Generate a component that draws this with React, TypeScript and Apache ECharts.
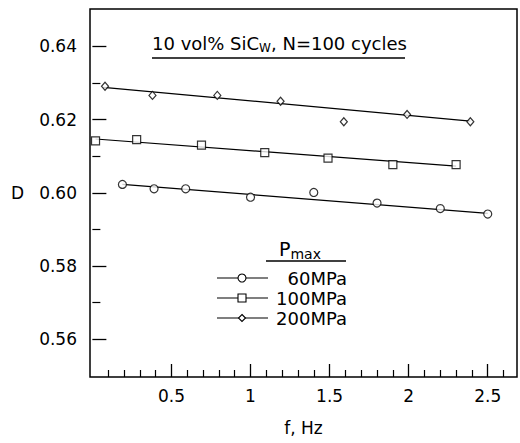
import React, { useEffect, useRef } from "react";
import * as echarts from "echarts";

// ---- data ----
const x60 = [0.19, 0.39, 0.59, 1.0, 1.4, 1.8, 2.2, 2.5];
const y60 = [0.6023, 0.6011, 0.6011, 0.5988, 0.6001, 0.5972, 0.5957, 0.5942];
const x100 = [0.02, 0.28, 0.69, 1.09, 1.49, 1.9, 2.3];
const y100 = [0.6142, 0.6145, 0.613, 0.611, 0.6095, 0.6077, 0.6077];
const x200 = [0.08, 0.38, 0.79, 1.19, 1.59, 1.99, 2.39];
const y200 = [0.6291, 0.6266, 0.6266, 0.625, 0.6194, 0.6214, 0.6194];

// fitted lines (endpoints as drawn)
const fit60X = [0.19, 2.5];
const fit60Y = [0.6023, 0.5944];
const fit100X = [0.02, 2.3];
const fit100Y = [0.6147, 0.6073];
const fit200X = [0.07, 2.39];
const fit200Y = [0.6288, 0.6196];

// ticks
const xMajor = [0.5, 1, 1.5, 2, 2.5];
const xMinor = [0.1, 0.2, 0.3, 0.4, 0.6, 0.7, 0.8, 0.9, 1.1, 1.2, 1.3, 1.4, 1.6, 1.7, 1.8, 1.9, 2.1, 2.2, 2.3, 2.4, 2.6];
const yMajor = [0.56, 0.58, 0.6, 0.62, 0.64];
const yMinor = [0.57, 0.59, 0.61, 0.63];

const legendNames = ["60MPa", "100MPa", "200MPa"];

const FONT = "DejaVu Sans, Arial, sans-serif";

function pairs(xs: number[], ys: number[]) {
  return xs.map((x, i) => [x, ys[i]]);
}

export default function App() {
  const ref = useRef<HTMLDivElement>(null);
  useEffect(() => {
    if (!ref.current) return;
    const chart = echarts.init(ref.current, null, { renderer: "svg" });
    const X0 = -0.015, X1 = 2.685, Y0 = 0.5497, Y1 = 0.6502;
    const black = "#000";
    const markerStyle = { color: "#fff", borderColor: black, borderWidth: 1.2 };
    const fitStyle = { color: black, width: 1.2 };
    const legendY = [278, 298, 318];
    const legendGraphics: any[] = [];
    legendY.forEach((y, i) => {
      legendGraphics.push({
        type: "line",
        shape: { x1: 217, y1: y, x2: 268, y2: y },
        style: { stroke: black, lineWidth: 1.1 },
      });
      if (i === 0) {
        legendGraphics.push({ type: "circle", shape: { cx: 242, cy: y, r: 4 }, style: { fill: "#fff", stroke: black, lineWidth: 1.1 } });
      } else if (i === 1) {
        legendGraphics.push({ type: "rect", shape: { x: 238, y: y - 4, width: 8, height: 8 }, style: { fill: "#fff", stroke: black, lineWidth: 1.1 } });
      } else {
        legendGraphics.push({
          type: "polygon",
          shape: { points: [[242, y - 3.5], [245.5, y], [242, y + 3.5], [238.5, y]] },
          style: { fill: "#fff", stroke: black, lineWidth: 1.1 },
        });
      }
      legendGraphics.push({
        type: "text",
        style: {
          text: legendNames[i], x: 347, y, align: "right", textAlign: "right",
          verticalAlign: "middle", textVerticalAlign: "middle",
          fontSize: 18, fontFamily: FONT, fill: black,
        },
      });
    });

    chart.setOption({
      animation: false,
      backgroundColor: "#fff",
      grid: { left: 90, top: 9, width: 427, height: 368, show: true, borderColor: black, borderWidth: 1.5, backgroundColor: "transparent" },
      xAxis: [
        {
          type: "value", min: X0, max: X1, position: "bottom",
          axisLine: { show: false }, splitLine: { show: false },
          axisTick: { show: true, inside: true, length: 13, customValues: xMajor, lineStyle: { color: black, width: 1.3 } },
          axisLabel: { show: true, customValues: xMajor, margin: 10, color: black, fontSize: 17, fontFamily: FONT, formatter: (v: number) => String(v) },
          name: "f, Hz", nameLocation: "middle", nameGap: 42,
          nameTextStyle: { color: black, fontSize: 17, fontFamily: FONT },
        },
        {
          type: "value", min: X0, max: X1, position: "bottom",
          axisLine: { show: false }, splitLine: { show: false },
          axisTick: { show: true, inside: true, length: 7, customValues: xMinor, lineStyle: { color: black, width: 1.2 } },
          axisLabel: { show: false },
        },
      ],
      yAxis: [
        {
          type: "value", min: Y0, max: Y1, position: "left",
          axisLine: { show: false }, splitLine: { show: false },
          axisTick: { show: true, inside: true, length: 14, customValues: yMajor, lineStyle: { color: black, width: 1.3 } },
          axisLabel: { show: true, customValues: yMajor, margin: 13, color: black, fontSize: 17, fontFamily: FONT, formatter: (v: number) => v.toFixed(2) },
          name: "D", nameLocation: "middle", nameRotate: 0, nameGap: 66,
          nameTextStyle: { color: black, fontSize: 17, fontFamily: FONT },
        },
        {
          type: "value", min: Y0, max: Y1, position: "left",
          axisLine: { show: false }, splitLine: { show: false },
          axisTick: { show: true, inside: true, length: 8, customValues: yMinor, lineStyle: { color: black, width: 1.2 } },
          axisLabel: { show: false },
        },
      ],
      graphic: [
        {
          type: "text",
          style: {
            text: "{a|10 vol% SiC}{s|W}{a|, N=100 cycles}",
            x: 152, y: 43, verticalAlign: "middle", textVerticalAlign: "middle",
            rich: {
              a: { fontSize: 18, fontFamily: FONT, fill: black, color: black },
              s: { fontSize: 12, fontFamily: FONT, fill: black, color: black, padding: [9, 0, 0, 0] },
            },
          },
        },
        { type: "line", shape: { x1: 152, y1: 58, x2: 405, y2: 58 }, style: { stroke: black, lineWidth: 1.3 } },
        {
          type: "text",
          style: {
            text: "{a|P}{s|max}",
            x: 279, y: 249, verticalAlign: "middle", textVerticalAlign: "middle",
            rich: {
              a: { fontSize: 19, fontFamily: FONT, fill: black, color: black },
              s: { fontSize: 14, fontFamily: FONT, fill: black, color: black, padding: [10, 0, 0, 0] },
            },
          },
        },
        { type: "line", shape: { x1: 266, y1: 261, x2: 346, y2: 261 }, style: { stroke: black, lineWidth: 1.3 } },
        ...legendGraphics,
      ],
      series: [
        { type: "line", name: "fit60", data: pairs(fit60X, fit60Y), symbol: "none", lineStyle: fitStyle, z: 2 },
        { type: "line", name: "fit100", data: pairs(fit100X, fit100Y), symbol: "none", lineStyle: fitStyle, z: 2 },
        { type: "line", name: "fit200", data: pairs(fit200X, fit200Y), symbol: "none", lineStyle: fitStyle, z: 2 },
        { type: "scatter", name: "60MPa", data: pairs(x60, y60), symbol: "circle", symbolSize: 8, itemStyle: markerStyle, z: 3 },
        { type: "scatter", name: "100MPa", data: pairs(x100, y100), symbol: "rect", symbolSize: 8, itemStyle: markerStyle, z: 3 },
        { type: "scatter", name: "200MPa", data: pairs(x200, y200), symbol: "diamond", symbolSize: [7, 8], itemStyle: markerStyle, z: 3 },
      ],
    });
    return () => chart.dispose();
  }, []);
  return <div ref={ref} style={{ position: "fixed", left: 0, top: 0, width: 520, height: 443, background: "#fff" }} />;
}
